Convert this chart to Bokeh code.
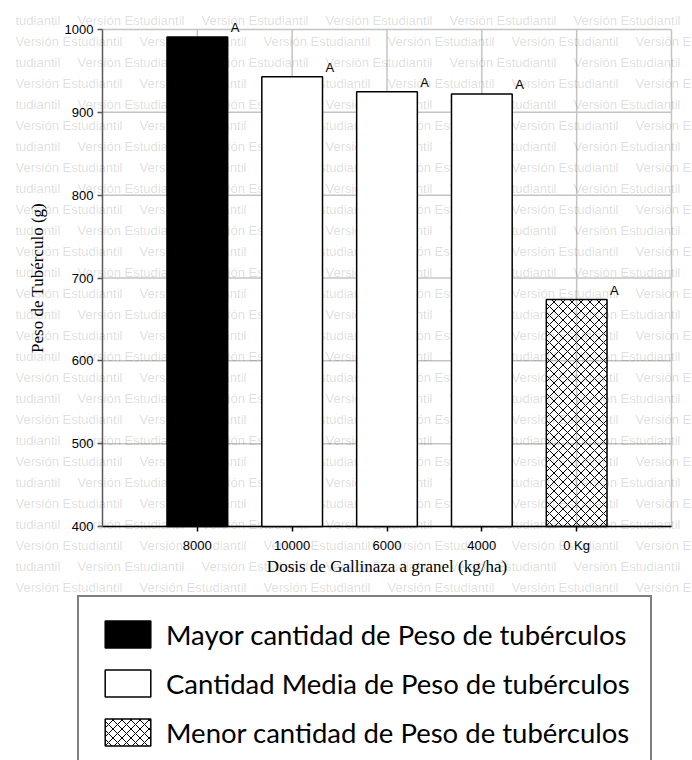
from bokeh.plotting import figure
from bokeh.models import (ColumnDataSource, Range1d, FixedTicker, Label, LabelSet,
                          Legend, LegendItem)
from bokeh.core.properties import value
from bokeh.embed import file_html
from bokeh.resources import INLINE

# ---- data ----
dosis = ["8000", "10000", "6000", "4000", "0 Kg"]
peso = [991, 943, 925, 922, 674]
letras = ["A", "A", "A", "A", "A"]
grupo = ["Mayor", "Media", "Media", "Media", "Menor"]
y_ticks = [400, 500, 600, 700, 800, 900, 1000]
legend_text = {
    "Mayor": "Mayor cantidad de Peso de tubérculos",
    "Media": "Cantidad Media de Peso de tubérculos",
    "Menor": "Menor cantidad de Peso de tubérculos",
}
watermark = "Versión Estudiantil"
watermark_left = "tudiantil"      # visible tail of a phrase cut by the left edge
watermark_right = "Versión E"     # visible head of a phrase cut by the right edge

# ---- layout (pixels of the 692x760 canvas) ----
W, H = 692, 760
PLOT_L, PLOT_R, PLOT_T, PLOT_B = 102, 671, 29, 526
Y_MIN, Y_MAX = 400, 1000
X_MIN, X_MAX = 0, len(dosis) + 1
BAR_W = 0.64

kx = (PLOT_R - PLOT_L) / (X_MAX - X_MIN)
ky = (PLOT_B - PLOT_T) / (Y_MAX - Y_MIN)
x_range = Range1d(X_MIN - PLOT_L / kx, X_MAX + (W - PLOT_R) / kx)
y_range = Range1d(Y_MIN - (H - PLOT_B) / ky, Y_MAX + PLOT_T / ky)

pos = list(range(1, len(dosis) + 1))

p = figure(width=W, height=H, x_range=x_range, y_range=y_range,
           output_backend="svg", toolbar_location=None,
           min_border_left=0, min_border_right=0, min_border_top=0, min_border_bottom=0)
p.background_fill_color = "white"
p.border_fill_color = "white"
p.outline_line_color = None
p.grid.visible = False

# axes fixed at the plot-area edges
xa, ya = p.xaxis[0], p.yaxis[0]
xa.fixed_location = Y_MIN
ya.fixed_location = X_MIN
xa.bounds = (X_MIN, X_MAX)
ya.bounds = (Y_MIN, Y_MAX)
xa.ticker = FixedTicker(ticks=pos)
xa.major_label_overrides = {x: d for x, d in zip(pos, dosis)}
ya.ticker = FixedTicker(ticks=y_ticks)
xa.axis_label = "Dosis de Gallinaza a granel (kg/ha)"
ya.axis_label = "Peso de Tubérculo (g)"
for ax in (xa, ya):
    ax.axis_label_text_font = "Liberation Serif"
    ax.axis_label_text_font_size = "17px"
    ax.axis_label_text_font_style = "normal"
    ax.axis_label_text_color = "black"
    ax.major_label_text_font = "Liberation Sans"
    ax.major_label_text_font_size = "13px"
    ax.major_label_text_color = "black"
    ax.major_tick_in = 0
    ax.major_tick_out = 5
    ax.minor_tick_in = 0
    ax.minor_tick_out = 0
    ax.axis_line_width = 1.5
    ax.major_tick_line_width = 1.5
xa.axis_line_color = "black"
xa.major_tick_line_color = "black"
ya.axis_line_color = "#5a5a5a"
ya.major_tick_line_color = "#5a5a5a"
xa.major_label_standoff = 6
xa.axis_label_standoff = 1
ya.major_label_standoff = 4
ya.axis_label_standoff = 15


def wm_label(txt, px, py):
    return Label(x=px, y=H - py, x_units="screen", y_units="screen",
                 text=txt, text_font="Liberation Sans", text_font_size="13px",
                 text_color="black", text_alpha=0.15, text_baseline="middle",
                 text_align="left", level="guide")


# watermark (behind the bars), rows alternate by half a period
WM_STEP = 124
for k in range(28):
    page_y = 20 + 21 * k
    if k % 2 == 0:
        p.add_layout(wm_label(watermark_left, 15, page_y))
        starts = [77 + WM_STEP * j for j in range(5)]
    else:
        starts = [15 + WM_STEP * j for j in range(5)]
    for sx in starts:
        p.add_layout(wm_label(watermark, sx, page_y))
    if k % 2 == 1:
        p.add_layout(wm_label(watermark_right, 15 + WM_STEP * 5, page_y))

# grid lines of the plot area (incl. its top/right border)
grid_color = "#c4c4c4"
p.segment(x0=X_MIN, x1=X_MAX, y0=y_ticks, y1=y_ticks, line_color=grid_color, line_width=1.5,
          level="guide")
p.segment(x0=pos + [X_MAX], x1=pos + [X_MAX], y0=Y_MIN, y1=Y_MAX, line_color=grid_color,
          line_width=1.5, level="guide")

# bars by group
styles = {
    "Mayor": dict(fill_color="black", fill_alpha=1, line_color="black", line_width=1.5),
    "Media": dict(fill_color="white", fill_alpha=1, line_color="black", line_width=1.5),
    "Menor": dict(fill_color="white", fill_alpha=0, line_color="black", line_width=1.5,
                  hatch_pattern="x", hatch_color="black", hatch_scale=9, hatch_weight=1),
}
renderers = {}
for g in ["Mayor", "Media", "Menor"]:
    src = ColumnDataSource(dict(
        x=[x for x, gg in zip(pos, grupo) if gg == g],
        peso=[v for v, gg in zip(peso, grupo) if gg == g],
    ))
    renderers[g] = p.vbar(x="x", top="peso", bottom=Y_MIN, width=BAR_W, source=src,
                          level="annotation", **styles[g])

# significance letters
lab_src = ColumnDataSource(dict(x=[x + BAR_W / 2 for x in pos], peso=peso, letras=letras))
p.add_layout(LabelSet(x="x", y="peso", text="letras", source=lab_src, x_offset=3, y_offset=5,
                      text_font=value("Liberation Sans"), text_font_size=value("13px"),
                      text_color="black", text_baseline="alphabetic", level="annotation"))

# legend box under the chart
legend = Legend(
    items=[LegendItem(label=value(legend_text[g]), renderers=[renderers[g]])
           for g in ["Mayor", "Media", "Menor"]],
    location=(77, -11), orientation="vertical",
    label_text_font="Lato", label_text_font_size="27.5px", label_text_color="black",
    glyph_width=57, glyph_height=34, label_height=34, label_standoff=10,
    spacing=15, padding=20, margin=0,
    border_line_color="black", border_line_width=2,
    background_fill_color="white", background_fill_alpha=1,
)
p.add_layout(legend)

open("out.html", "w").write(file_html(p, INLINE))
